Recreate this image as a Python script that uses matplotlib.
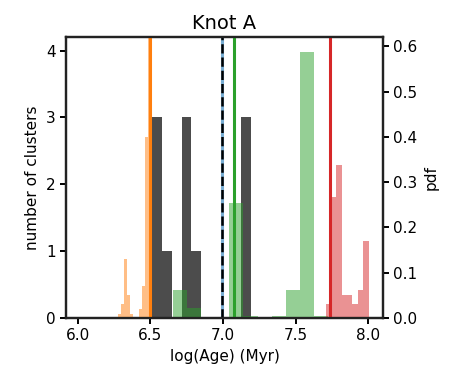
import numpy as np
import matplotlib
matplotlib.use("Agg")
import matplotlib.pyplot as plt

# Cluster age counts (left axis)
cluster_bin_left = [6.51, 6.578, 6.714, 6.782, 7.122]
cluster_counts = [3, 1, 3, 1, 3]
cluster_bin_width = 0.068

# Age pdfs for each model (right axis)
orange_left = [6.28, 6.30, 6.32, 6.34, 6.36, 6.42, 6.44, 6.46, 6.48]
orange_pdf = [0.01, 0.03, 0.13, 0.05, 0.01, 0.02, 0.07, 0.40, 0.70]
orange_width = 0.02

green_left = [6.655, 6.752, 7.043, 7.14, 7.237, 7.334, 7.431, 7.528, 7.625]
green_pdf = [0.062, 0.022, 0.254, 0.005, 0.003, 0.005, 0.062, 0.587, 0.005]
green_width = 0.097

red_left = [7.705, 7.742, 7.779, 7.816, 7.853, 7.89, 7.927, 7.964]
red_pdf = [0.03, 0.267, 0.338, 0.05, 0.05, 0.03, 0.062, 0.17]
red_width = 0.037

# Best-fit ages
age_orange = 6.497
age_green = 7.076
age_red = 7.738
age_knot = 6.99

fig = plt.figure(figsize=(4.5, 3.72), dpi=100)
ax = fig.add_axes([0.147, 0.145, 0.704, 0.755])
ax.bar(cluster_bin_left, cluster_counts, width=cluster_bin_width, align="edge",
       color="k", alpha=0.7, zorder=1)
ax.set_xlim(5.92, 8.1)
ax.set_ylim(0, 4.2)
ax.set_xticks([6.0, 6.5, 7.0, 7.5, 8.0])
ax.set_yticks([0, 1, 2, 3, 4])
ax.set_xlabel("log(Age) (Myr)", fontsize=11)
ax.set_ylabel("number of clusters", fontsize=11)
ax.set_title("Knot A", fontsize=14)

ax2 = ax.twinx()
ax2.bar(orange_left, orange_pdf, width=orange_width, align="edge",
        color="C1", alpha=0.5)
ax2.bar(green_left, green_pdf, width=green_width, align="edge",
        color="C2", alpha=0.5)
ax2.bar(red_left, red_pdf, width=red_width, align="edge",
        color="C3", alpha=0.5)
ax2.axvline(age_orange, color="C1", lw=2.2)
ax2.axvline(age_green, color="C2", lw=2.2)
ax2.axvline(age_red, color="C3", lw=2.2)
ax2.axvline(age_knot, color="C0", lw=2.2, alpha=0.6)
ax2.axvline(age_knot, color="k", lw=1.8, ls="--")
ax2.set_ylim(0, 0.62)
ax2.set_yticks([0.0, 0.1, 0.2, 0.3, 0.4, 0.5, 0.6])
ax2.set_ylabel("pdf", fontsize=11)

for a in (ax, ax2):
    for s in a.spines.values():
        s.set_linewidth(1.6)
        s.set_color("#222222")
    a.tick_params(labelsize=11, width=1.4, length=4)

fig.savefig("out.png", dpi=100)
